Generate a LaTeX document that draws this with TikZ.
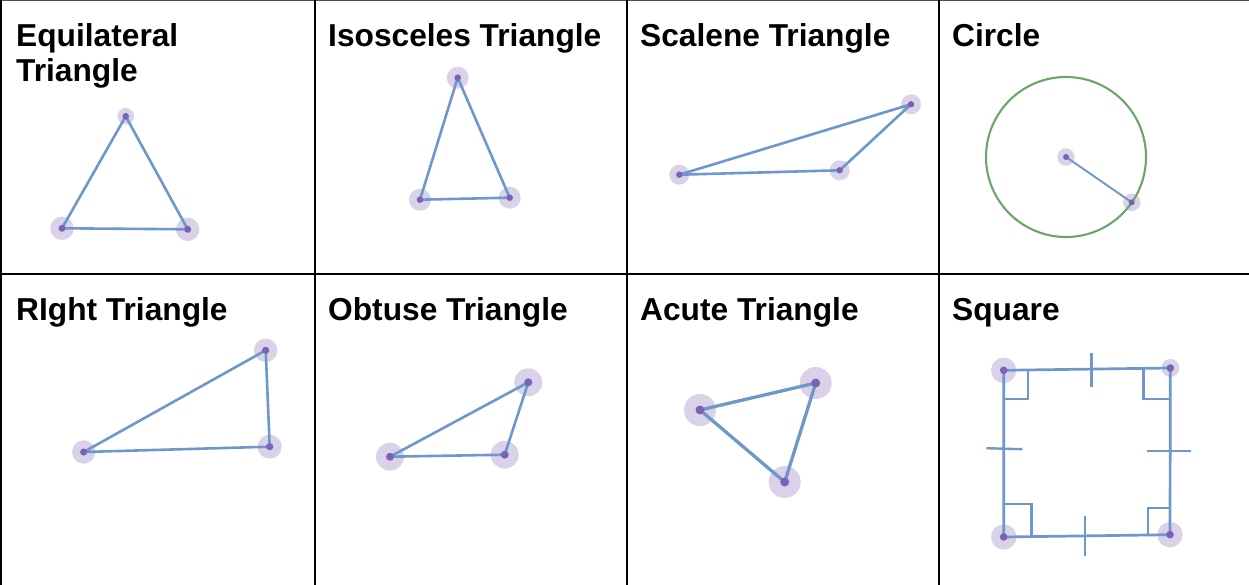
\documentclass[tikz,border=0pt]{standalone}
\usepackage{fontspec}
\setmainfont{Liberation Sans}
\definecolor{edgec}{HTML}{6E97CB}
\definecolor{dotc}{HTML}{7B62B5}
\definecolor{haloc}{HTML}{D9D2E9}
\definecolor{circc}{HTML}{6AA66A}
\begin{document}
\begin{tikzpicture}[x=1pt,y=-1pt,
  title/.style={font=\bfseries\fontsize{31.7}{35}\selectfont, inner sep=0pt, anchor=base west},
  edge/.style={draw=edgec, line width=2.6pt, line cap=round, line join=round},
  thinedge/.style={draw=edgec, line width=1.9pt, line cap=round},
  gridline/.style={draw=black, line width=2.2pt},
  sqmark/.style={draw=edgec, line width=2.4pt, line join=miter}]
\useasboundingbox (0,0) rectangle (1249,585);
\fill[white] (0,0) rectangle (1249,585);
% grid
\draw[draw=black!70, line width=1.2pt] (0,0.6) -- (1249,0.6);
\draw[gridline] (1.2,0) -- (1.2,585);
\draw[gridline] (315,0) -- (315,585);
\draw[gridline] (627,0) -- (627,585);
\draw[gridline] (939,0) -- (939,585);
\draw[gridline] (0,274) -- (1249,274);
% titles
\node[title] (t1) at (16,47) {Equilateral};
\node[title] (t1b) at (16,82) {Triangle};
\node[title] (t2) at (328,47) {Isosceles Triangle};
\node[title] (t3) at (640,47) {Scalene Triangle};
\node[title] (t4) at (952,47) {Circle};
\node[title] (t5) at (16,320) {RIght Triangle};
\node[title] (t6) at (328,320) {Obtuse Triangle};
\node[title] (t7) at (640,320) {Acute Triangle};
\node[title] (t8) at (952,320) {Square};
% vertices
\coordinate (e1) at (125.7,116.3);
\coordinate (e2) at (62,228.3);
\coordinate (e3) at (187.7,229.3);
\coordinate (i1) at (457.7,77.7);
\coordinate (i2) at (420,199.7);
\coordinate (i3) at (509.7,197.7);
\coordinate (s1) at (679.3,174.7);
\coordinate (s2) at (839.7,170.3);
\coordinate (s3) at (911,104.3);
\coordinate (c0) at (1066,157);
\coordinate (c1) at (1131.7,202.3);
\coordinate (r1) at (83.7,452);
\coordinate (r2) at (265.7,350.3);
\coordinate (r3) at (269.7,446.7);
\coordinate (o1) at (390,456.7);
\coordinate (o2) at (504.7,454.7);
\coordinate (o3) at (528.3,382.3);
\coordinate (a1) at (700,410);
\coordinate (a2) at (815.7,383);
\coordinate (a3) at (784.7,482);
\coordinate (q1) at (1003.7,370.3);
\coordinate (q2) at (1170.3,368);
\coordinate (q3) at (1170,534.7);
\coordinate (q4) at (1003.7,537);
% halos
\foreach \p/\r in {e1/8.3,e2/11.7,e3/11.7,i1/11,i2/11,i3/11,s1/10,s2/10,s3/10,
  c0/8.7,c1/8.7,r1/11.7,r2/11.7,r3/12,o1/14,o2/14,o3/14,a1/16,a2/16,a3/16,
  q1/12.7,q2/9,q3/12.7,q4/12.7}
  \fill[haloc] (\p) circle (\r pt);
% circle
\draw[draw=circc, line width=2.1pt] (c0) circle (80pt);
% edges
\draw[edge] (e1) -- (e2) -- (e3) -- cycle;
\draw[edge] (i1) -- (i2) -- (i3) -- cycle;
\draw[edge] (s1) -- (s2) -- (s3) -- cycle;
\draw[thinedge] (c0) -- (c1);
\draw[edge] (r1) -- (r2) -- (r3) -- cycle;
\draw[edge] (o1) -- (o2) -- (o3) -- cycle;
\draw[edge, line width=3.3pt] (a1) -- (a2) -- (a3) -- cycle;
\draw[edge, line width=2.7pt] (q1) -- (q2) -- (q3) -- (q4) -- cycle;
% square right-angle marks
\draw[sqmark] (1028,370.2) -- (1028,398.7) -- (1003.7,398.7);
\draw[sqmark] (1143.3,368.2) -- (1143.3,398.7) -- (1170.2,398.7);
\draw[sqmark] (1003.7,503.7) -- (1031.3,503.7) -- (1031.3,536.8);
\draw[sqmark] (1170.1,507.7) -- (1148,507.7) -- (1148,534.8);
% square ticks
\draw[sqmark] (1091.3,353) -- (1091.3,387);
\draw[sqmark] (1085,516.3) -- (1085,555.7);
\draw[sqmark] (986.3,448.2) -- (1022.3,449.2);
\draw[sqmark] (1147,450.7) -- (1191.3,450.7);
% dots
\foreach \p/\d in {e1/3.3,e2/3.5,e3/3.5,i1/3.3,i2/3.3,i3/3.3,s1/3.2,s2/3.2,s3/3.2,
  c0/3,c1/3,r1/3.6,r2/3.6,r3/3.6,o1/4,o2/4,o3/4,a1/4.5,a2/4.5,a3/4.5,
  q1/3.8,q2/3.8,q3/3.8,q4/3.8}
  \fill[dotc] (\p) circle (\d pt);
\end{tikzpicture}
\end{document}
